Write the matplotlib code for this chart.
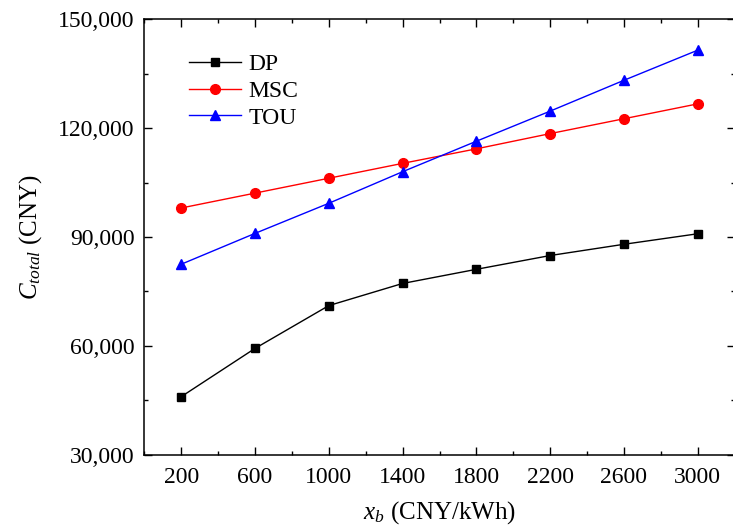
import numpy as np
import matplotlib
matplotlib.use('Agg')
import matplotlib.pyplot as plt
from matplotlib.ticker import FuncFormatter, MultipleLocator

# data
xb = [200, 600, 1000, 1400, 1800, 2200, 2600, 3000]
dp = [46000, 59300, 71100, 77200, 81100, 84900, 88000, 90900]
msc = [98000, 102100, 106200, 110300, 114300, 118500, 122600, 126700]
tou = [82500, 91000, 99300, 108000, 116400, 124700, 133200, 141500]

plt.rcParams['font.family'] = 'Liberation Serif'
plt.rcParams['mathtext.fontset'] = 'custom'
plt.rcParams['mathtext.rm'] = 'Liberation Serif'
plt.rcParams['mathtext.it'] = 'Liberation Serif:italic'

fig = plt.figure(figsize=(7.33, 5.29), dpi=100)
ax = fig.add_axes([0.1969, 0.1404, 0.8054, 0.8231])

ax.plot(xb, dp, color='black', marker='s', markersize=6, lw=1, label='DP')
ax.plot(xb, msc, color='red', marker='o', markersize=7, lw=1, label='MSC')
ax.plot(xb, tou, color='blue', marker='^', markersize=7.5, lw=1, label='TOU')

ax.set_xlim(0, 3200)
ax.set_ylim(30000, 150000)
ax.set_xticks(xb)
ax.xaxis.set_minor_locator(MultipleLocator(200))
ax.yaxis.set_major_locator(MultipleLocator(30000))
ax.yaxis.set_minor_locator(MultipleLocator(15000))
ax.yaxis.set_major_formatter(FuncFormatter(lambda v, p: '{:,.0f}'.format(v)))

ax.tick_params(which='both', direction='in', top=True, right=True, labelsize=17, width=1)
ax.tick_params(which='major', length=6)
ax.tick_params(which='minor', length=3)
ax.tick_params(axis='x', pad=9)
ax.tick_params(axis='y', pad=7)
for s in ax.spines.values():
    s.set_linewidth(1.1)

ax.set_xlabel(r'$x_b$ (CNY/kWh)', fontsize=18, labelpad=8)
ax.set_ylabel(r'$C_{total}$ (CNY)', fontsize=18, labelpad=10)

ax.legend(loc='upper left', frameon=False, fontsize=17, handlelength=2.2,
          bbox_to_anchor=(0.04, 0.97), labelspacing=0.22, handletextpad=0.3)

fig.savefig('out.png', dpi=100)
